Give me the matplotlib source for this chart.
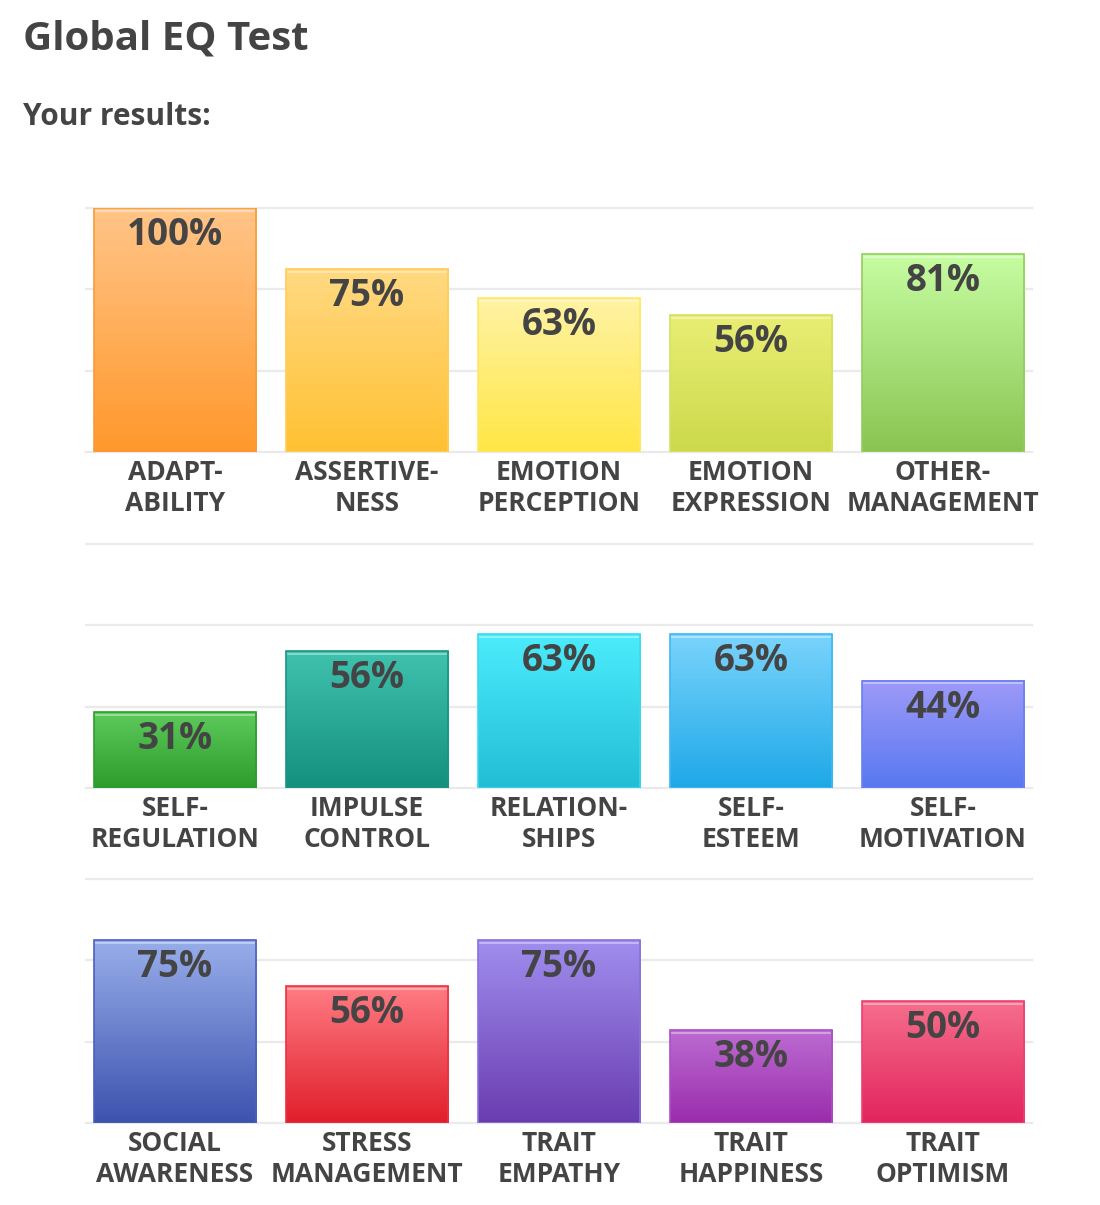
import numpy as np
import matplotlib
matplotlib.use("Agg")
import matplotlib.pyplot as plt
from matplotlib.colors import LinearSegmentedColormap

plt.rcParams['font.family'] = ['Open Sans', 'DejaVu Sans']

# --- data, one list per row of the chart ---
labels_row1 = ['ADAPT-\nABILITY', 'ASSERTIVE-\nNESS', 'EMOTION\nPERCEPTION',
               'EMOTION\nEXPRESSION', 'OTHER-\nMANAGEMENT']
values_row1 = [100, 75, 63, 56, 81]

labels_row2 = ['SELF-\nREGULATION', 'IMPULSE\nCONTROL', 'RELATION-\nSHIPS',
               'SELF-\nESTEEM', 'SELF-\nMOTIVATION']
values_row2 = [31, 56, 63, 63, 44]

labels_row3 = ['SOCIAL\nAWARENESS', 'STRESS\nMANAGEMENT', 'TRAIT\nEMPATHY',
               'TRAIT\nHAPPINESS', 'TRAIT\nOPTIMISM']
values_row3 = [75, 56, 75, 38, 50]

# gradient colours (top, bottom, edge) for each bar
colors_row1 = [('#FFC588', '#FF982C', '#F99A3A'),
               ('#FFD982', '#FFC132', '#FFCC55'),
               ('#FFF3A4', '#FFE645', '#FFE866'),
               ('#E9EE74', '#CCD94A', '#D6E060'),
               ('#C6FDA2', '#8AC452', '#94CC60')]
colors_row2 = [('#5ECA5C', '#2C9C2C', '#2E9E30'),
               ('#40C2AE', '#14907E', '#1A9484'),
               ('#4CECFC', '#22BDD6', '#3ED8EC'),
               ('#7AD4FC', '#1EA8E8', '#40B8F0'),
               ('#9E9AF8', '#5878F0', '#6A80F2')]
colors_row3 = [('#98AEEA', '#3C52AE', '#4A60C0'),
               ('#FF7C84', '#E01E2A', '#EE3040'),
               ('#A08EEE', '#6A3CB0', '#8A70E0'),
               ('#BC6CD2', '#9A2CAC', '#AA50C4'),
               ('#F66E8C', '#E2245E', '#EE4070')]

rows = [(labels_row1, values_row1, colors_row1),
        (labels_row2, values_row2, colors_row2),
        (labels_row3, values_row3, colors_row3)]

TEXT = '#444444'
GRID = '#EAEAEA'

fig = plt.figure(figsize=(11, 12.05), dpi=100)
W, H = 1100, 1205

fig.text(23 / W, 1 - 39 / H, 'Global EQ Test', fontsize=29, fontweight='bold',
         color=TEXT, va='center', ha='left')
fig.text(23 / W, 1 - 117 / H, 'Your results:', fontsize=21.5, fontweight='bold',
         color=TEXT, va='center', ha='left')

baselines = [452, 788, 1123]
grad = np.linspace(0, 1, 256).reshape(-1, 1)
bar_w = 0.844

for (labels, values, colors), base in zip(rows, baselines):
    ax = fig.add_axes([86 / W, (H - base) / H, 946 / W, 244 / H])
    x = np.arange(len(values))

    for gy in [0, 100 / 3, 200 / 3, 100]:
        ax.axhline(gy, color=GRID, lw=1.6, zorder=0, clip_on=False)

    for xi, v, (top, bottom, edge) in zip(x, values, colors):
        cmap = LinearSegmentedColormap.from_list('g', [bottom, top])
        ax.imshow(grad, extent=[xi - bar_w / 2, xi + bar_w / 2, 0, v],
                  aspect='auto', cmap=cmap, origin='lower', zorder=2)
        ax.bar(xi, v, bar_w, fill=False, edgecolor=edge, lw=1.2, zorder=3)
        ax.plot([xi - bar_w / 2 + 0.01, xi + bar_w / 2 - 0.01], [v - 1.1, v - 1.1],
                color='white', alpha=0.45, lw=1.2, zorder=3)
        ax.annotate(f'{v}%', xy=(xi, v), xytext=(0, -27), textcoords='offset pixels',
                    ha='center', va='center', fontsize=26.5, fontweight='bold',
                    color=TEXT, zorder=4)

    for xi, lab in zip(x, labels):
        ax.annotate(lab, xy=(xi, 0), xytext=(0, -7), textcoords='offset pixels',
                    ha='center', va='top', fontsize=19, fontweight='bold',
                    color=TEXT, linespacing=1.17, annotation_clip=False)

    ax.set_xlim(-0.4635, 4.464)
    ax.set_ylim(0, 100)
    ax.axis('off')

fig.savefig('out.png', dpi=100)
